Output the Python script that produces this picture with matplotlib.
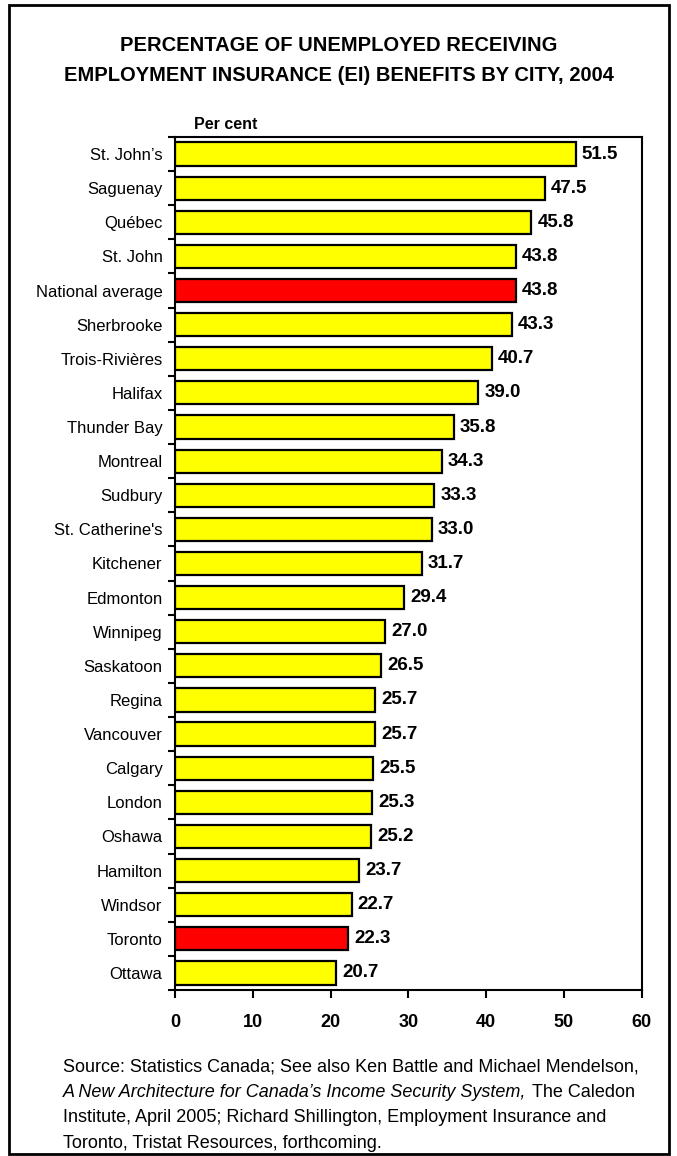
import matplotlib
matplotlib.use("Agg")
import matplotlib.pyplot as plt
from matplotlib.patches import Rectangle
from matplotlib.ticker import FixedLocator

plt.rcParams['font.family'] = ['Liberation Sans', 'DejaVu Sans']

cities = ["St. John\u2019s", "Saguenay", "Qu\u00e9bec", "St. John", "National average",
          "Sherbrooke", "Trois-Rivi\u00e8res", "Halifax", "Thunder Bay", "Montreal",
          "Sudbury", "St. Catherine's", "Kitchener", "Edmonton", "Winnipeg",
          "Saskatoon", "Regina", "Vancouver", "Calgary", "London", "Oshawa",
          "Hamilton", "Windsor", "Toronto", "Ottawa"]
pct = [51.5, 47.5, 45.8, 43.8, 43.8, 43.3, 40.7, 39.0, 35.8, 34.3, 33.3, 33.0,
       31.7, 29.4, 27.0, 26.5, 25.7, 25.7, 25.5, 25.3, 25.2, 23.7, 22.7, 22.3, 20.7]
highlight = ["National average", "Toronto"]
xticks = [0, 10, 20, 30, 40, 50, 60]

fig = plt.figure(figsize=(6.77, 11.56), dpi=100)
ax = fig.add_axes([0.2585, 0.1436, 0.6895, 0.7379])

colors = ["#ff0000" if c in highlight else "#ffff00" for c in cities]
ypos = list(range(len(cities)))
ax.barh(ypos, pct, height=0.68, color=colors, edgecolor="black", linewidth=1.6)

for y, v in zip(ypos, pct):
    ax.text(v + 0.8, y, f"{v:.1f}", va="center", ha="left",
            fontsize=13.5, fontweight="bold")

ax.set_ylim(len(cities) - 0.5, -0.5)
ax.set_xlim(0, 60)
ax.set_yticks(ypos)
ax.set_yticklabels(cities, fontsize=12)
ax.tick_params(axis="y", which="major", length=0, pad=9)
ax.yaxis.set_minor_locator(FixedLocator([i - 0.5 for i in range(len(cities) + 1)]))
ax.tick_params(axis="y", which="minor", length=5, width=1.5, direction="out")

ax.set_xticks(xticks)
ax.set_xticklabels([str(t) for t in xticks], fontsize=13, fontweight="bold")
ax.tick_params(axis="x", length=6, width=1.5, direction="out", pad=11)

for s in ax.spines.values():
    s.set_linewidth(1.5)

ax.text(0.04, 1.006, "Per cent", transform=ax.transAxes, fontsize=11.5,
        fontweight="bold", ha="left", va="bottom")

fig.text(0.5, 0.9605, "PERCENTAGE OF UNEMPLOYED RECEIVING", ha="center",
         va="center", fontsize=14.5, fontweight="bold")
fig.text(0.5, 0.9345, "EMPLOYMENT INSURANCE (EI) BENEFITS BY CITY, 2004",
         ha="center", va="center", fontsize=14.5, fontweight="bold")

# source note, second line starts with an italic title
x0 = 0.093
fs = 13
fig.text(x0, 0.077, "Source: Statistics Canada; See also Ken Battle and Michael Mendelson,",
         fontsize=fs, va="center")
t = fig.text(x0, 0.055, "A New Architecture for Canada\u2019s Income Security System,",
             fontsize=fs, va="center", style="italic")
fig.canvas.draw()
bb = t.get_window_extent().transformed(fig.transFigure.inverted())
fig.text(bb.x1 + 0.009, 0.055, "The Caledon", fontsize=fs, va="center")
fig.text(x0, 0.033, "Institute, April 2005; Richard Shillington, Employment Insurance and",
         fontsize=fs, va="center")
fig.text(x0, 0.011, "Toronto, Tristat Resources, forthcoming.", fontsize=fs, va="center")

fig.patches.append(Rectangle((0.014, 0.002), 0.974, 0.994, transform=fig.transFigure,
                             fill=False, edgecolor="black", linewidth=2))

fig.savefig("out.png", dpi=100)
